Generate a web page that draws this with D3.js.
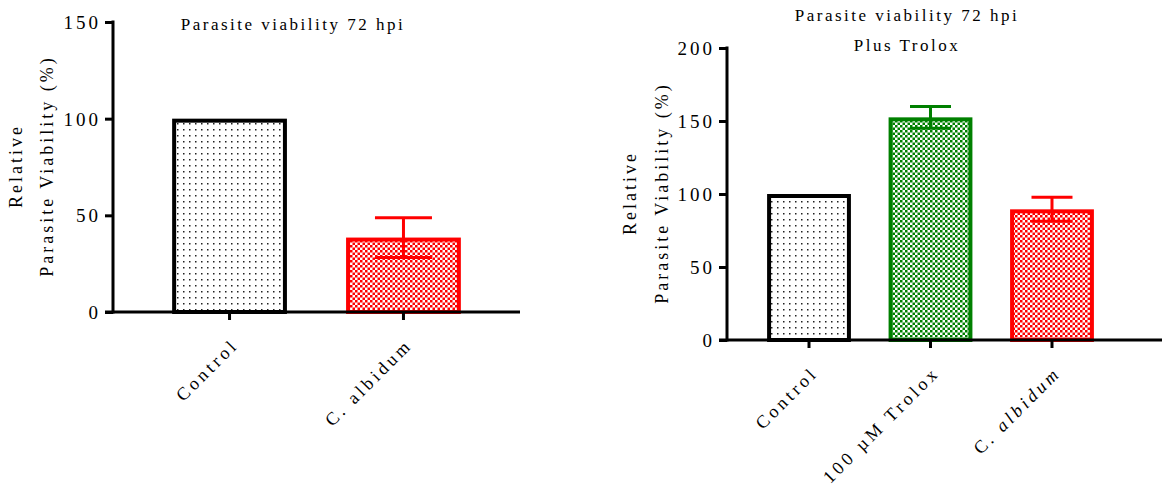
<!DOCTYPE html>
<html>
<head>
<meta charset="utf-8">
<script src="https://cdn.jsdelivr.net/npm/d3@7"></script>
<style>
  body { margin: 0; background: #fff; }
</style>
</head>
<body>
<svg id="chart" width="1162" height="491"></svg>
<script>
// left panel
var leftCategories = ["Control", "C. albidum"];
var leftMeans = [100, 38.5];
var leftSem = [0, 10.3];
var leftTicks = [0, 50, 100, 150];

// right panel (plus Trolox)
var rightCategories = ["Control", "100 µM Trolox", "C. albidum"];
var rightMeans = [100, 152.5, 89.5];
var rightSem = [0, 7.5, 8.2];
var rightTicks = [0, 50, 100, 150, 200];

var FONT = "'Liberation Serif', 'Times New Roman', 'DejaVu Serif', serif";

var svg = d3.select("#chart");
var defs = svg.append("defs");

// dotted fill for control bars
var dots = defs.append("pattern").attr("id", "dots")
	.attr("patternUnits", "userSpaceOnUse").attr("width", 6).attr("height", 6);
dots.append("rect").attr("width", 6).attr("height", 6).attr("fill", "#fff");
dots.append("rect").attr("x", 3).attr("y", 3).attr("width", 1.5).attr("height", 1.5).attr("fill", "#222");

function checker(id, color) {
	var p = defs.append("pattern").attr("id", id)
		.attr("patternUnits", "userSpaceOnUse").attr("width", 5).attr("height", 5);
	p.append("rect").attr("width", 5).attr("height", 5).attr("fill", "#fff");
	p.append("rect").attr("width", 2.5).attr("height", 2.5).attr("fill", color);
	p.append("rect").attr("x", 2.5).attr("y", 2.5).attr("width", 2.5).attr("height", 2.5).attr("fill", color);
}
checker("redcheck", "#ff0000");
checker("greencheck", "#008000");

var styles = {
	"Control": { stroke: "#000", fill: "url(#dots)" },
	"100 µM Trolox": { stroke: "#008000", fill: "url(#greencheck)" },
	"C. albidum": { stroke: "#ff0000", fill: "url(#redcheck)" }
};

function drawPanel(opt) {
	var g = svg.append("g");

	var y = d3.scaleLinear().domain([0, opt.max]).range([opt.bottom, opt.top]);
	var x = d3.scaleBand().domain(opt.categories)
		.range([opt.left, opt.right])
		.paddingInner(opt.padInner).paddingOuter(opt.padOuter);

	// bars
	var sw = 4;
	opt.categories.forEach(function(c, i) {
		var st = styles[c];
		g.append("rect")
			.attr("x", x(c) + sw / 2)
			.attr("y", y(opt.means[i]) + sw / 2)
			.attr("width", x.bandwidth() - sw)
			.attr("height", y(0) - y(opt.means[i]) - sw / 2)
			.attr("fill", st.fill)
			.attr("stroke", st.stroke)
			.attr("stroke-width", sw);

		if (opt.sem[i] > 0) {
			var cx = x(c) + x.bandwidth() / 2;
			var hi = y(opt.means[i] + opt.sem[i]);
			var lo = y(opt.means[i] - opt.sem[i]);
			var cap = opt.cap / 2;
			var eb = g.append("g").attr("stroke", st.stroke).attr("stroke-width", 3);
			eb.append("line").attr("x1", cx).attr("x2", cx).attr("y1", hi).attr("y2", lo);
			eb.append("line").attr("x1", cx - cap).attr("x2", cx + cap).attr("y1", hi).attr("y2", hi);
			eb.append("line").attr("x1", cx - cap).attr("x2", cx + cap).attr("y1", lo).attr("y2", lo);
		}
	});

	// y axis
	var yAxis = g.append("g")
		.attr("transform", "translate(" + opt.left + ",0)")
		.call(d3.axisLeft(y).tickValues(opt.ticks).tickSize(8).tickPadding(4).tickFormat(d3.format("d")));
	yAxis.attr("font-family", FONT);
	yAxis.select(".domain").attr("d", "M0," + (y(opt.max) - 1.5) + "V" + (y(0) + 1.5)).attr("stroke-width", 3);
	yAxis.selectAll(".tick line").attr("stroke-width", 3);
	yAxis.selectAll(".tick text").attr("font-size", 19).attr("letter-spacing", 3).attr("dy", "0.34em");

	// x axis
	var xAxis = g.append("g")
		.attr("transform", "translate(0," + opt.bottom + ")")
		.call(d3.axisBottom(x).tickSize(8).tickFormat(""));
	xAxis.select(".domain").attr("d", "M" + (opt.left - 8) + ",0H" + opt.axisEnd).attr("stroke-width", 3);
	xAxis.selectAll(".tick line").attr("stroke-width", 3);

	// rotated category labels
	opt.categories.forEach(function(c) {
		var tx = x(c) + x.bandwidth() / 2 + 10;
		var ty = opt.bottom + opt.labelDy;
		var t = g.append("text")
			.attr("transform", "translate(" + tx + "," + ty + ") rotate(-45)")
			.attr("text-anchor", "end")
			.attr("font-family", FONT)
			.attr("font-size", 18)
			.attr("letter-spacing", 3.5);
		if (c === "C. albidum" && opt.italic) {
			t.append("tspan").text("C. ");
			t.append("tspan").attr("font-style", "italic").text("albidum");
		} else {
			t.text(c);
		}
	});

	// title
	opt.title.forEach(function(line, i) {
		g.append("text")
			.attr("x", opt.titleX).attr("y", opt.titleY + i * 30)
			.attr("text-anchor", "middle")
			.attr("font-family", FONT)
			.attr("font-size", 17)
			.attr("letter-spacing", 2.5)
			.text(line);
	});

	// y label
	var labY = opt.labelY;
	g.append("text")
		.attr("transform", "translate(" + opt.yLab1 + "," + labY + ") rotate(-90)")
		.attr("text-anchor", "middle").attr("font-family", FONT)
		.attr("font-size", 18).attr("letter-spacing", 3)
		.text("Relative");
	g.append("text")
		.attr("transform", "translate(" + opt.yLab2 + "," + labY + ") rotate(-90)")
		.attr("text-anchor", "middle").attr("font-family", FONT)
		.attr("font-size", 18).attr("letter-spacing", 3)
		.text("Parasite Viability (%)");
}

drawPanel({
	categories: leftCategories, means: leftMeans, sem: leftSem, ticks: leftTicks,
	max: 150, top: 22, bottom: 312, left: 113, right: 520, axisEnd: 520,
	padInner: 0.34, padOuter: 0.34, cap: 57, labelDy: 34, italic: false,
	title: ["Parasite viability 72 hpi"], titleX: 293, titleY: 30,
	yLab1: 22, yLab2: 53, labelY: 166
});

drawPanel({
	categories: rightCategories, means: rightMeans, sem: rightSem, ticks: rightTicks,
	max: 200, top: 48, bottom: 340, left: 727, right: 1134, axisEnd: 1162,
	padInner: 0.31, padOuter: 0.33, cap: 41, labelDy: 34, italic: true,
	title: ["Parasite viability 72 hpi", "Plus Trolox"], titleX: 907, titleY: 21,
	yLab1: 636, yLab2: 668, labelY: 193
});
</script>
</body>
</html>
